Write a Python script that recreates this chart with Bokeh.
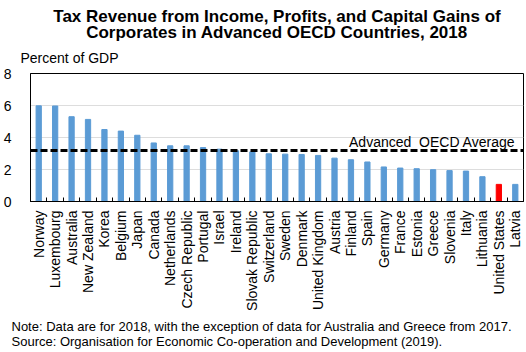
import numpy as np
from bokeh.plotting import figure
from bokeh.models import (Range1d, FixedTicker, Span, Label, ColumnDataSource, Title)
from bokeh.embed import file_html
from bokeh.resources import INLINE

countries = ["Norway", "Luxembourg", "Australia", "New Zealand", "Korea", "Belgium",
             "Japan", "Canada", "Netherlands", "Czech Republic", "Portugal", "Israel",
             "Ireland", "Slovak Republic", "Switzerland", "Sweden", "Denmark",
             "United Kingdom", "Austria", "Finland", "Spain", "Germany", "France",
             "Estonia", "Greece", "Slovenia", "Italy", "Lithuania", "United States", "Latvia"]
values = [5.98, 5.97, 5.30, 5.13, 4.50, 4.40, 4.14, 3.66, 3.48, 3.48, 3.37, 3.27,
          3.17, 3.10, 2.98, 2.96, 2.94, 2.88, 2.71, 2.61, 2.47, 2.16, 2.09, 2.05,
          1.99, 1.93, 1.90, 1.55, 1.07, 1.07]
highlight = "United States"
oecd_average = 3.19
y_ticks = [0, 2, 4, 6, 8]

W, H = 526, 352
FL, FR, FT, FB = 23, 523, 73, 202
n = len(countries)

xs = np.arange(n) + 0.5
colors = ["#ff0000" if c == highlight else "#5b9bd5" for c in countries]
src = ColumnDataSource(dict(x=xs, top=values, color=colors))

FONT = "Liberation Sans"

p = figure(width=W, height=H, output_backend="svg", toolbar_location=None,
           x_range=Range1d(0, n), y_range=Range1d(0, 8),
           min_border_left=FL, min_border_right=W - FR,
           min_border_top=FT, min_border_bottom=H - FB)
p.outline_line_color = "black"
p.outline_line_width = 1
p.background_fill_color = "white"
p.border_fill_color = "white"

p.vbar(x="x", top="top", width=0.32, color="color", source=src)

# axes
xa = p.xaxis[0]
xa.ticker = FixedTicker(ticks=list(xs), minor_ticks=list(np.arange(n + 1)))
xa.major_label_overrides = {float(x): c for x, c in zip(xs, countries)}
xa.major_label_orientation = np.pi / 2
xa.major_tick_line_color = None
xa.minor_tick_in = 4
xa.minor_tick_out = 0
xa.minor_tick_line_color = "black"
xa.axis_line_color = "black"
xa.major_label_text_font = FONT
xa.major_label_text_font_size = "14px"
xa.major_label_text_color = "black"
xa.major_label_standoff = 3

ya = p.yaxis[0]
ya.ticker = FixedTicker(ticks=y_ticks)
ya.major_tick_line_color = None
ya.minor_tick_line_color = None
ya.axis_line_color = "black"
ya.major_label_text_font = FONT
ya.major_label_text_font_size = "14px"
ya.major_label_text_color = "black"
ya.major_label_standoff = 13

p.xgrid.grid_line_color = None
p.ygrid.grid_line_color = "#dddddd"
p.ygrid.grid_line_width = 1

p.add_layout(Span(location=oecd_average, dimension="width", line_color="black",
                  line_width=3, line_dash="7 3"))

p.add_layout(Label(x=n - 0.5, y=oecd_average + 0.55, text="Advanced\u00a0 OECD Average",
                   text_font=FONT, text_font_size="14px", text_baseline="middle",
                   text_align="right", text_color="black"))

# titles (above) - innermost first
p.title.text = ""
p.add_layout(Title(text="Percent of GDP", align="left", offset=-10,
                   text_font=FONT, text_font_size="14px", text_font_style="normal",
                   text_color="black", standoff=16), "above")
p.add_layout(Title(text="Corporates in Advanced OECD Countries, 2018",
                   align="center", text_font=FONT, text_font_size="17px",
                   text_font_style="bold", text_color="black", standoff=-4), "above")
p.add_layout(Title(text="Tax Revenue from Income, Profits, and Capital Gains of",
                   align="center", text_font=FONT, text_font_size="17px",
                   text_font_style="bold", text_color="black", standoff=-6), "above")

# notes (below)
p.add_layout(Title(text="Note: Data are for 2018, with the exception of data for Australia and Greece from 2017.\nSource: Organisation for Economic Co-operation and Development (2019).",
                   align="left", offset=-19, text_line_height=0.95,
                   text_font=FONT, text_font_size="13px",
                   text_font_style="normal", text_color="black", standoff=8), "below")

open("out.html", "w").write(file_html(p, INLINE))
